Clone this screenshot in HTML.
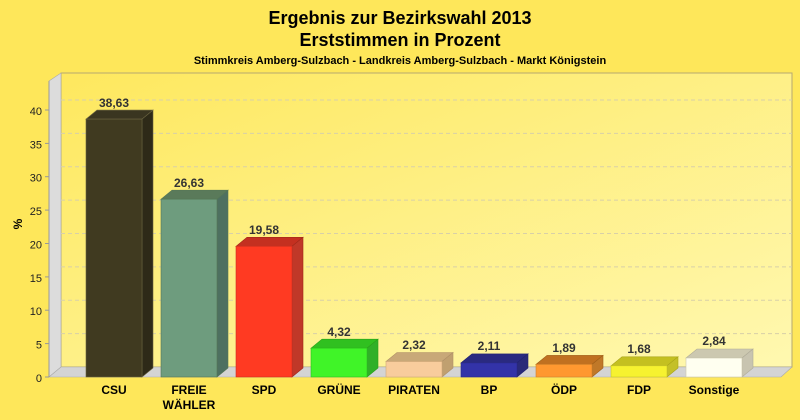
<!DOCTYPE html>
<html><head><meta charset="utf-8"><style>
html,body{margin:0;padding:0;background:#fee75a;}
svg{display:block;font-family:"Liberation Sans",Arial,sans-serif;}
</style></head><body>
<svg width="800" height="420" xmlns="http://www.w3.org/2000/svg">
<defs>
<linearGradient id="bg" x1="0" y1="0" x2="1" y2="1">
<stop offset="0" stop-color="#fee85e"/><stop offset="1" stop-color="#fff8b0"/>
</linearGradient>
</defs>
<rect width="800" height="420" fill="#fee75a"/>
<text x="400" y="24" text-anchor="middle" font-size="18" font-weight="bold">Ergebnis zur Bezirkswahl 2013</text>
<text x="400" y="46" text-anchor="middle" font-size="18" font-weight="bold">Erststimmen in Prozent</text>
<text x="400" y="64" text-anchor="middle" font-size="11" font-weight="bold">Stimmkreis Amberg-Sulzbach - Landkreis Amberg-Sulzbach - Markt Königstein</text>
<!-- back wall -->
<rect x="61" y="73" width="731" height="294" fill="url(#bg)" stroke="#b5a870" stroke-width="1"/>
<!-- left wall -->
<polygon points="49,81 61,73 61,367 49,377" fill="#dcdcdc" stroke="#aaa" stroke-width="0.6"/>
<!-- floor -->
<polygon points="49,377 61,367 792,367 781,377" fill="#d4d4d4" stroke="#aaa" stroke-width="0.6"/>
<g stroke="#d8d0a8" stroke-dasharray="4,3" stroke-width="1">
<line x1="61" y1="333.6" x2="792" y2="333.6"/>
<line x1="61" y1="300.2" x2="792" y2="300.2"/>
<line x1="61" y1="266.9" x2="792" y2="266.9"/>
<line x1="61" y1="233.5" x2="792" y2="233.5"/>
<line x1="61" y1="200.1" x2="792" y2="200.1"/>
<line x1="61" y1="166.7" x2="792" y2="166.7"/>
<line x1="61" y1="133.4" x2="792" y2="133.4"/>
<line x1="61" y1="100" x2="792" y2="100"/>
</g>
<line x1="49" y1="81" x2="49" y2="377" stroke="#999"/>
<g font-size="11" text-anchor="end" fill="#222">
<text x="42" y="382">0</text><text x="42" y="348.6">5</text><text x="42" y="315.2">10</text>
<text x="42" y="281.9">15</text><text x="42" y="248.5">20</text><text x="42" y="215.1">25</text>
<text x="42" y="181.7">30</text><text x="42" y="148.4">35</text><text x="42" y="115">40</text>
</g>
<g stroke="#999"><line x1="45" y1="377" x2="49" y2="377"/><line x1="45" y1="343.6" x2="49" y2="343.6"/><line x1="45" y1="310.2" x2="49" y2="310.2"/><line x1="45" y1="276.9" x2="49" y2="276.9"/><line x1="45" y1="243.5" x2="49" y2="243.5"/><line x1="45" y1="210.1" x2="49" y2="210.1"/><line x1="45" y1="176.7" x2="49" y2="176.7"/><line x1="45" y1="143.4" x2="49" y2="143.4"/><line x1="45" y1="110" x2="49" y2="110"/></g>
<text x="22" y="224" font-size="12" font-weight="bold" transform="rotate(-90 22 224)" text-anchor="middle">%</text>
<g id="bars" font-size="12" font-weight="bold" fill="#333" text-anchor="middle">
</g>
<g font-size="12" font-weight="bold" text-anchor="middle" fill="#000">
<text x="114" y="394">CSU</text>
<text x="189" y="394">FREIE</text><text x="189" y="409">WÄHLER</text>
<text x="264" y="394">SPD</text>
<text x="339" y="394">GRÜNE</text>
<text x="414" y="394">PIRATEN</text>
<text x="489" y="394">BP</text>
<text x="564" y="394">ÖDP</text>
<text x="639" y="394">FDP</text>
<text x="714" y="394">Sonstige</text>
</g>
<!-- bars generated statically -->
<g stroke-width="0.6">
<!-- CSU -->
<polygon points="86,119.1 97,110.1 153,110.1 142,119.1" fill="#3a3520" stroke="#6a6340"/>
<polygon points="142,119.1 153,110.1 153,368 142,377" fill="#2e2a18" stroke="#6a6340"/>
<rect x="86" y="119.1" width="56" height="257.9" fill="#403a20" stroke="#6a6340"/>
<text x="114" y="107" font-size="12" font-weight="bold" text-anchor="middle" fill="#333">38,63</text>
<!-- FREIE -->
<polygon points="161,199.2 172,190.2 228,190.2 217,199.2" fill="#5a7a5a" stroke="#557755"/>
<polygon points="217,199.2 228,190.2 228,368 217,377" fill="#4e7060" stroke="#557755"/>
<rect x="161" y="199.2" width="56" height="177.8" fill="#6e9c7e" stroke="#557755"/>
<text x="189" y="187" font-size="12" font-weight="bold" text-anchor="middle" fill="#333">26,63</text>
<!-- SPD -->
<polygon points="236,246.3 247,237.3 303,237.3 292,246.3" fill="#c43020" stroke="#a02818"/>
<polygon points="292,246.3 303,237.3 303,368 292,377" fill="#c03828" stroke="#a02818"/>
<rect x="236" y="246.3" width="56" height="130.7" fill="#ff3a22" stroke="#cc3020"/>
<text x="264" y="234" font-size="12" font-weight="bold" text-anchor="middle" fill="#333">19,58</text>
<!-- GRUENE -->
<polygon points="311,348.2 322,339.2 378,339.2 367,348.2" fill="#30c020" stroke="#28a018"/>
<polygon points="367,348.2 378,339.2 378,368 367,377" fill="#30b028" stroke="#28a018"/>
<rect x="311" y="348.2" width="56" height="28.8" fill="#40f428" stroke="#30c020"/>
<text x="339" y="336" font-size="12" font-weight="bold" text-anchor="middle" fill="#333">4,32</text>
<!-- PIRATEN -->
<polygon points="386,361.5 397,352.5 453,352.5 442,361.5" fill="#c8a878" stroke="#b09068"/>
<polygon points="442,361.5 453,352.5 453,368 442,377" fill="#c0a070" stroke="#b09068"/>
<rect x="386" y="361.5" width="56" height="15.5" fill="#f8cc9c" stroke="#d0a878"/>
<text x="414" y="349" font-size="12" font-weight="bold" text-anchor="middle" fill="#333">2,32</text>
<!-- BP -->
<polygon points="461,362.9 472,353.9 528,353.9 517,362.9" fill="#2a2a80" stroke="#222270"/>
<polygon points="517,362.9 528,353.9 528,368 517,377" fill="#2a2a78" stroke="#222270"/>
<rect x="461" y="362.9" width="56" height="14.1" fill="#3333a8" stroke="#2a2a88"/>
<text x="489" y="350" font-size="12" font-weight="bold" text-anchor="middle" fill="#333">2,11</text>
<!-- OEDP -->
<polygon points="536,364.4 547,355.4 603,355.4 592,364.4" fill="#c07020" stroke="#a06018"/>
<polygon points="592,364.4 603,355.4 603,368 592,377" fill="#c07828" stroke="#a06018"/>
<rect x="536" y="364.4" width="56" height="12.6" fill="#ff9830" stroke="#d08028"/>
<text x="564" y="352" font-size="12" font-weight="bold" text-anchor="middle" fill="#333">1,89</text>
<!-- FDP -->
<polygon points="611,365.8 622,356.8 678,356.8 667,365.8" fill="#c4c020" stroke="#a8a418"/>
<polygon points="667,365.8 678,356.8 678,368 667,377" fill="#c4c028" stroke="#a8a418"/>
<rect x="611" y="365.8" width="56" height="11.2" fill="#f6f230" stroke="#c8c428"/>
<text x="639" y="353" font-size="12" font-weight="bold" text-anchor="middle" fill="#333">1,68</text>
<!-- Sonstige -->
<polygon points="686,358 697,349 753,349 742,358" fill="#ccc8b0" stroke="#b0ac98"/>
<polygon points="742,358 753,349 753,368 742,377" fill="#c8c4b0" stroke="#b0ac98"/>
<rect x="686" y="358" width="56" height="19" fill="#fffff0" stroke="#ccc8b0"/>
<text x="714" y="345" font-size="12" font-weight="bold" text-anchor="middle" fill="#333">2,84</text>
</g>
</svg>
</body></html>
